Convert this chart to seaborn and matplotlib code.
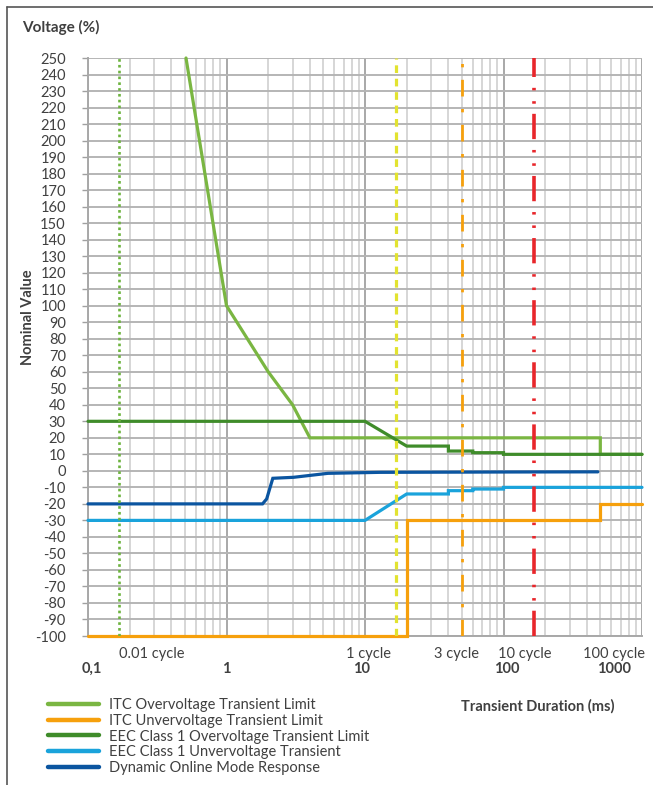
import numpy as np
import pandas as pd
import matplotlib
matplotlib.use("Agg")
import matplotlib.pyplot as plt
from matplotlib.lines import Line2D
from matplotlib.ticker import LogLocator, NullFormatter, FixedLocator
import seaborn as sns

# ---------------- data ----------------
series_names = [
    "ITC Overvoltage Transient Limit",
    "ITC Unvervoltage Transient Limit",
    "EEC Class 1 Overvoltage Transient Limit",
    "EEC Class 1 Unvervoltage Transient",
    "Dynamic Online Mode Response",
]
itc_over_x = [0.51, 1, 2, 3, 4, 500, 500, 1000]
itc_over_y = [250, 100, 60, 40, 20, 20, 10, 10]

itc_under_x = [0.1, 20, 20, 500, 500, 1000]
itc_under_y = [-100, -100, -30, -30, -20, -20]

eec_over_x = [0.1, 10, 20, 40, 40, 60, 60, 100, 100, 1000]
eec_over_y = [30, 30, 15, 15, 12, 12, 11, 11, 10, 10]

eec_under_x = [0.1, 10, 20, 40, 40, 60, 60, 100, 100, 1000]
eec_under_y = [-30, -30, -14, -14, -12, -12, -11, -11, -10, -10]

dyn_x = [0.1, 1.82, 1.95, 2.16, 3.05, 5.4, 12.8, 100, 480]
dyn_y = [-20, -20, -17, -4.5, -3.9, -1.5, -0.9, -0.7, -0.6]

cycle_ms = [1000 / 60 * c for c in (0.01, 1, 3, 10)]   # 60 Hz cycle durations
y_ticks = list(range(-100, 251, 10))
x_major_labels = ["0,1", "1", "10", "100", "1000"]
cycle_labels = ["0.01 cycle", "1 cycle", "3 cycle", "10 cycle", "100 cycle"]

colors = ["#7AB642", "#F6A00C", "#3F8C2A", "#1AA3DB", "#0B55A0"]
ref_colors = ["#6DB33F", "#E2E330", "#F6A00C", "#E8262B"]

frames = []
for name, xs, ys in zip(series_names,
                        [itc_over_x, itc_under_x, eec_over_x, eec_under_x, dyn_x],
                        [itc_over_y, itc_under_y, eec_over_y, eec_under_y, dyn_y]):
    frames.append(pd.DataFrame({"ms": xs, "val": ys, "series": name,
                                "order": range(len(xs))}))
df = pd.concat(frames, ignore_index=True)

# ---------------- style ----------------
sns.set_theme(style="white")
plt.rcParams["font.family"] = ["Lato", "DejaVu Sans"]
txt = "#404040"
FS = 10.5

W, H = 653, 785
fig = plt.figure(figsize=(W / 100, H / 100), dpi=100)
L, R, B, T = 88, 642, 636, 58
ax = fig.add_axes([L / W, 1 - B / H, (R - L) / W, (B - T) / H])

sns.lineplot(data=df, x="ms", y="val", hue="series", hue_order=series_names,
             palette=colors, sort=False, estimator=None, units="series",
             linewidth=2.3, ax=ax, legend=False, zorder=3)
for ln in ax.get_lines():
    ln.set_clip_on(False)
    ln.set_solid_joinstyle("miter")

ax.set_xscale("log")
ax.set_xlim(0.1, 1000)
ax.set_ylim(-100, 250)
ax.set_yticks(y_ticks)
ax.set_yticklabels([str(v) for v in y_ticks], color=txt, fontsize=FS)
ax.xaxis.set_major_locator(FixedLocator([0.1, 1, 10, 100, 1000]))
ax.xaxis.set_minor_locator(LogLocator(base=10, subs=np.arange(2, 10)))
ax.xaxis.set_major_formatter(NullFormatter())
ax.xaxis.set_minor_formatter(NullFormatter())
ax.tick_params(axis="x", which="both", length=0)
ax.tick_params(axis="y", which="major", length=4, width=1, color="#a0a0a0",
               pad=12, direction="out", left=True)
ax.set_xlabel("")
ax.set_ylabel("")

ax.grid(True, which="major", axis="y", color="#b5b5b5", linewidth=1.4, zorder=0)
ax.grid(True, which="major", axis="x", color="#a8a8a8", linewidth=1.4, zorder=0)
ax.grid(True, which="minor", axis="x", color="#d6d6d6", linewidth=1.4, zorder=0)
ax.set_axisbelow(True)
for s in ["top", "right"]:
    ax.spines[s].set_visible(False)
for s in ["left", "bottom"]:
    ax.spines[s].set_color("#a8a8a8")
    ax.spines[s].set_linewidth(1.4)

# reference cycle lines
styles = [(0, (1, 1.2)), (0, (2.4, 1.8)), (0, (6, 4.5, 1.2, 4.5)), (0, (7, 2.8, 0.7, 3, 0.7, 3))]
widths = [1.9, 2.3, 2.0, 2.6]
for xv, c, ls, lw in zip(cycle_ms, ref_colors, styles, widths):
    ax.axvline(xv, color=c, linestyle=ls, linewidth=lw, zorder=5)

# x labels (placed as text boxes like the original)
def fx(px):
    return (px - L) / (R - L)

for lab, px in zip(x_major_labels, [92, 226, 362, 507, 614]):
    ax.text(fx(px), 1 - (669 - T) / (B - T), lab, transform=ax.transAxes,
            ha="center", va="center", fontsize=FS, fontweight="bold", color=txt)
for lab, px in zip(cycle_labels, [152, 368, 457, 525, 614]):
    ax.text(fx(px), 1 - (654 - T) / (B - T), lab, transform=ax.transAxes,
            ha="center", va="center", fontsize=FS, color=txt)

fig.text(22 / W, 1 - 27 / H, "Voltage (%)", ha="left", va="center",
         fontsize=11, fontweight="bold", color=txt)
fig.text(28 / W, 1 - 317 / H, "Nominal Value", rotation=90, ha="center",
         va="center", fontsize=FS, fontweight="bold", color=txt)
fig.text(538 / W, 1 - 706 / H, "Transient Duration (ms)", ha="center",
         va="center", fontsize=FS, fontweight="bold", color=txt)

# legend
handles = [Line2D([0], [0], color=c, linewidth=3.2) for c in colors]
leg = fig.legend(handles, series_names, loc="upper left",
                 bbox_to_anchor=(48 / W, 1 - 698 / H), frameon=False,
                 fontsize=FS, handlelength=3.5, handletextpad=0.68,
                 labelspacing=0.12, borderaxespad=0, borderpad=0)
for t in leg.get_texts():
    t.set_color(txt)

# outer frame (top and left edges)
fig.add_artist(Line2D([7 / W, 1], [1 - 7 / H, 1 - 7 / H], transform=fig.transFigure,
                      color="#555555", linewidth=1.2))
fig.add_artist(Line2D([7 / W, 7 / W], [0, 1 - 7 / H], transform=fig.transFigure,
                      color="#555555", linewidth=1.2))

fig.savefig("out.png", dpi=100)
